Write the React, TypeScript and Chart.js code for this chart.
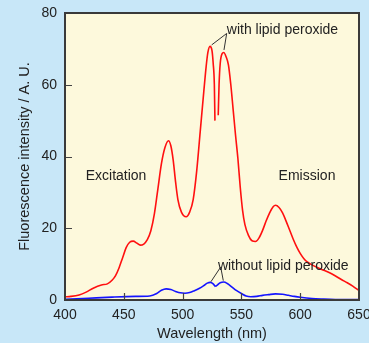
import React, { useEffect, useRef } from "react";
import { Chart, registerables } from "chart.js";

Chart.register(...registerables);

// Wavelength (nm) / intensity pairs
const excWithX = [400, 405, 412, 418, 424, 431, 436, 440, 443, 446, 449, 452, 455, 458, 461, 464, 467, 470, 473, 476, 479, 482, 485, 488, 490, 492, 494, 496, 499, 503, 506, 509, 512, 515, 518, 520, 521.5, 523.3, 525, 526, 527, 527.5];
const excWithY = [0.9, 1.0, 1.4, 2.2, 3.3, 4.2, 4.5, 5.5, 6.8, 9, 11.8, 14.6, 16.1, 16.4, 15.9, 15.3, 15.6, 16.8, 19.3, 24, 31, 38, 42.5, 44.4, 43, 39, 33, 28, 24.5, 23.2, 24.5, 28, 36, 47, 58, 65, 69, 70.7, 69.5, 66, 60, 50];

const emWithX = [530.3, 531, 532, 533.5, 535, 537, 539, 541, 543, 545, 547, 549, 551, 553, 556, 559, 562, 565, 568, 571, 574, 577, 579, 582, 585, 588, 591, 594, 597, 600, 603, 606, 610, 615, 620, 625, 630, 635, 640, 645, 650];
const emWithY = [51.5, 60, 66, 68.6, 69, 67.8, 65.5, 60, 53, 46, 39.5, 31.5, 25, 21, 18, 16.5, 16.3, 17.3, 19.4, 22, 24.3, 26, 26.4, 25.8, 24.3, 22, 19.5, 17, 14.8, 13, 11.6, 10.6, 9.8, 9, 8.3, 7.6, 6.7, 5.7, 4.8, 3.8, 2.6];

const excWithoutX = [400, 420, 440, 460, 472, 478, 482, 486, 490, 494, 498, 502, 506, 510, 514, 518, 521, 523.5, 526, 528];
const excWithoutY = [0.2, 0.5, 0.8, 1.0, 1.1, 1.8, 2.7, 3.1, 2.9, 2.4, 2.0, 1.9, 2.1, 2.6, 3.2, 4.0, 4.7, 4.9, 4.5, 3.7];

const emWithoutX = [528, 530, 532, 535, 538, 542, 546, 550, 554, 558, 563, 568, 573, 579, 585, 590, 595, 600, 610, 620, 630, 650];
const emWithoutY = [3.8, 4.3, 4.8, 5.0, 4.6, 3.6, 2.6, 1.8, 1.1, 0.9, 1.0, 1.3, 1.5, 1.7, 1.6, 1.3, 1.0, 0.75, 0.4, 0.25, 0.15, 0.1];

const xTicks = [400, 450, 500, 550, 600, 650];
const yTicks = [0, 20, 40, 60, 80];

const FONT = "'Liberation Sans', Arial, Helvetica, sans-serif";
const TEXT = "#222222";

const pts = (xs: number[], ys: number[]) => xs.map((x, i) => ({ x, y: ys[i] }));

const framePlugin = {
  id: "frame",
  beforeDraw(chart: any) {
    const { ctx, chartArea: a } = chart;
    ctx.save();
    ctx.fillStyle = "#c8e7f8";
    ctx.fillRect(0, 0, chart.width, chart.height);
    ctx.fillStyle = "#fdf9dc";
    ctx.fillRect(a.left, a.top, a.right - a.left, a.bottom - a.top);
    ctx.restore();
  },
  afterDraw(chart: any) {
    const { ctx, chartArea: a, scales } = chart;
    const xs = scales.x, ys = scales.y;
    ctx.save();
    // inner ticks
    ctx.strokeStyle = "#444";
    ctx.lineWidth = 1.2;
    ctx.beginPath();
    for (const v of yTicks.slice(1, -1)) {
      const py = Math.round(ys.getPixelForValue(v)) + 0.5;
      ctx.moveTo(a.left, py);
      ctx.lineTo(a.left + 7, py);
    }
    for (const v of xTicks.slice(1, -1)) {
      const px = Math.round(xs.getPixelForValue(v)) + 0.5;
      ctx.moveTo(px, a.bottom);
      ctx.lineTo(px, a.bottom - 7);
    }
    ctx.stroke();
    // frame
    ctx.strokeStyle = "#3a3a3a";
    ctx.lineWidth = 2;
    ctx.strokeRect(a.left, a.top, a.right - a.left, a.bottom - a.top);
    // annotations
    const P = (x: number, y: number): [number, number] => [xs.getPixelForValue(x), ys.getPixelForValue(y)];
    ctx.fillStyle = TEXT;
    ctx.font = `14px ${FONT}`;
    ctx.textBaseline = "middle";
    ctx.textAlign = "left";
    ctx.fillText("with lipid peroxide", ...P(537.6, 75.3));
    ctx.fillText("without lipid peroxide", ...P(530.0, 9.5));
    ctx.textAlign = "center";
    ctx.fillText("Excitation", ...P(443.4, 34.5));
    ctx.fillText("Emission", ...P(605.8, 34.5));
    // leader lines
    ctx.strokeStyle = "#333";
    ctx.lineWidth = 1;
    ctx.beginPath();
    let [ax, ay] = P(537.5, 74.3);
    let [bx, by] = P(524.7, 71.1);
    ctx.moveTo(ax, ay); ctx.lineTo(bx, by);
    [bx, by] = P(535.2, 69.7);
    ctx.moveTo(ax, ay); ctx.lineTo(bx, by);
    [ax, ay] = P(532.4, 9.2);
    [bx, by] = P(524.1, 5.1);
    ctx.moveTo(ax, ay); ctx.lineTo(bx, by);
    [bx, by] = P(534.6, 5.4);
    ctx.moveTo(ax, ay); ctx.lineTo(bx, by);
    ctx.stroke();
    ctx.restore();
  },
};

export default function App() {
  const ref = useRef<HTMLCanvasElement>(null);
  useEffect(() => {
    if (!ref.current) return;
    const red = "#ff1010";
    const blue = "#1414ff";
    const ds = (data: any, color: string) => ({
      data,
      borderColor: color,
      borderWidth: 1.6,
      pointRadius: 0,
      fill: false,
      cubicInterpolationMode: "monotone" as const,
      clip: false as any,
    });
    const chart = new Chart(ref.current, {
      type: "line",
      data: {
        datasets: [
          ds(pts(excWithX, excWithY), red),
          ds(pts(emWithX, emWithY), red),
          ds(pts(excWithoutX, excWithoutY), blue),
          ds(pts(emWithoutX, emWithoutY), blue),
        ],
      },
      options: {
        responsive: false,
        animation: false,
        devicePixelRatio: 1,
        layout: { padding: { left: 0, top: 13, right: 10, bottom: 0 } },
        plugins: { legend: { display: false }, tooltip: { enabled: false } },
        scales: {
          x: {
            type: "linear",
            min: 400,
            max: 650,
            afterBuildTicks: (s: any) => { s.ticks = xTicks.map((v) => ({ value: v })); },
            afterFit: (s: any) => { s.height = 43; s.paddingLeft = 0; s.paddingRight = 0; },
            grid: { display: false, drawTicks: false },
            border: { display: false },
            ticks: { padding: 7, color: TEXT, font: { family: FONT, size: 14 }, maxRotation: 0 },
            title: { display: true, text: "Wavelength (nm)", color: TEXT, font: { family: FONT, size: 14.5 }, padding: { top: 0, bottom: 0 } },
          },
          y: {
            type: "linear",
            min: 0,
            max: 80,
            afterBuildTicks: (s: any) => { s.ticks = yTicks.map((v) => ({ value: v })); },
            afterFit: (s: any) => { s.width = 65; s.paddingTop = 0; s.paddingBottom = 0; },
            grid: { display: false, drawTicks: false },
            border: { display: false },
            ticks: { padding: 8, color: TEXT, font: { family: FONT, size: 14 } },
            title: { display: true, text: "Fluorescence intensity / A. U.", color: TEXT, font: { family: FONT, size: 14.5 }, padding: { top: 16, bottom: 0 } },
          },
        },
      },
      plugins: [framePlugin],
    });
    return () => chart.destroy();
  }, []);
  return (
    <div style={{ position: "fixed", left: 0, top: 0, width: 369, height: 343 }}>
      <canvas ref={ref} width={369} height={343} style={{ display: "block" }} />
    </div>
  );
}
